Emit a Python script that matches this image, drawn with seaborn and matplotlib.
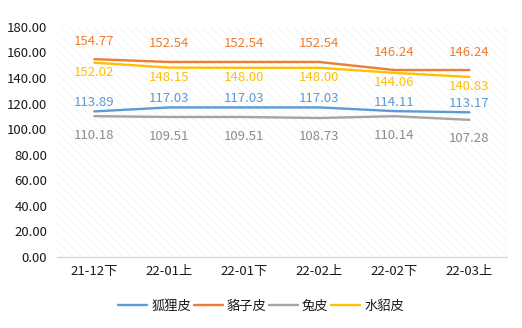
import pandas as pd
import matplotlib.pyplot as plt
import seaborn as sns
from matplotlib.patches import Rectangle

periods = ['21-12下', '22-01上', '22-01下', '22-02上', '22-02下', '22-03上']
fox = [113.89, 117.03, 117.03, 117.03, 114.11, 113.17]
raccoon = [154.77, 152.54, 152.54, 152.54, 146.24, 146.24]
rabbit = [110.18, 109.51, 109.51, 108.73, 110.14, 107.28]
mink = [152.02, 148.15, 148.00, 148.00, 144.06, 140.83]

series_names = ['狐狸皮', '貉子皮', '兔皮', '水貂皮']
colors = ['#5B9BD5', '#ED7D31', '#A5A5A5', '#FFC000']
label_colors = ['#5B9BD5', '#ED7D31', '#8C8C8C', '#FFC000']
# label offsets in pixels (positive = above the point)
label_offsets = [9, 18, -19, -10]


def main():
    sns.set_theme(style="white")
    plt.rcParams['font.family'] = ['Noto Sans CJK SC', 'DejaVu Sans']
    plt.rcParams['hatch.linewidth'] = 0.6
    plt.rcParams['hatch.color'] = '#F3F3F3'

    values = [fox, raccoon, rabbit, mink]
    rows = []
    for name, vals in zip(series_names, values):
        for i, (p, v) in enumerate(zip(periods, vals)):
            rows.append({'period': p, 'pos': i, 'series': name, 'value': v})
    df = pd.DataFrame(rows)

    fig = plt.figure(figsize=(5.22, 3.28), dpi=100)
    ax = fig.add_axes([0.109, 0.2165, 0.862, 0.7015])

    # hatched plot background
    ax.add_patch(Rectangle((0, 0), 1, 1, transform=ax.transAxes, facecolor='white',
                           edgecolor='#F3F3F3', hatch='\\\\\\\\', linewidth=0, zorder=0))

    sns.lineplot(data=df, x='pos', y='value', hue='series', hue_order=series_names,
                 palette=dict(zip(series_names, colors)), linewidth=1.7, ax=ax,
                 legend=True, zorder=3)

    for name, vals, lc, off in zip(series_names, values, label_colors, label_offsets):
        for i, v in enumerate(vals):
            ax.annotate(f'{v:.2f}', (i, v), xytext=(0, off * 0.72), textcoords='offset points',
                        ha='center', va='center', fontsize=9.5, color=lc, zorder=4)

    ax.set_xlim(-0.5, 5.5)
    ax.set_ylim(0, 180)
    ax.set_yticks(range(0, 181, 20))
    ax.set_yticklabels([f'{t:.2f}' for t in range(0, 181, 20)])
    ax.set_xticks(range(len(periods)))
    ax.set_xticklabels(periods)
    ax.set_xlabel('')
    ax.set_ylabel('')
    ax.tick_params(axis='both', labelsize=9.5, colors='#1A1A1A', length=0)
    ax.tick_params(axis='x', pad=6)
    ax.tick_params(axis='y', pad=7)
    for s in ['top', 'right', 'left']:
        ax.spines[s].set_visible(False)
    ax.spines['bottom'].set_color('#D9D9D9')
    ax.spines['bottom'].set_linewidth(1.0)

    handles, labels = ax.get_legend_handles_labels()
    ax.legend(handles, labels, loc='center', bbox_to_anchor=(0.5, 0.067),
              bbox_transform=fig.transFigure, ncol=4, frameon=False, fontsize=9.5,
              handlelength=2.2, handletextpad=0.3, columnspacing=0.2, labelcolor='#1A1A1A')

    fig.savefig('out.png', dpi=100)
    plt.close(fig)


if __name__ == "__main__":
    main()
